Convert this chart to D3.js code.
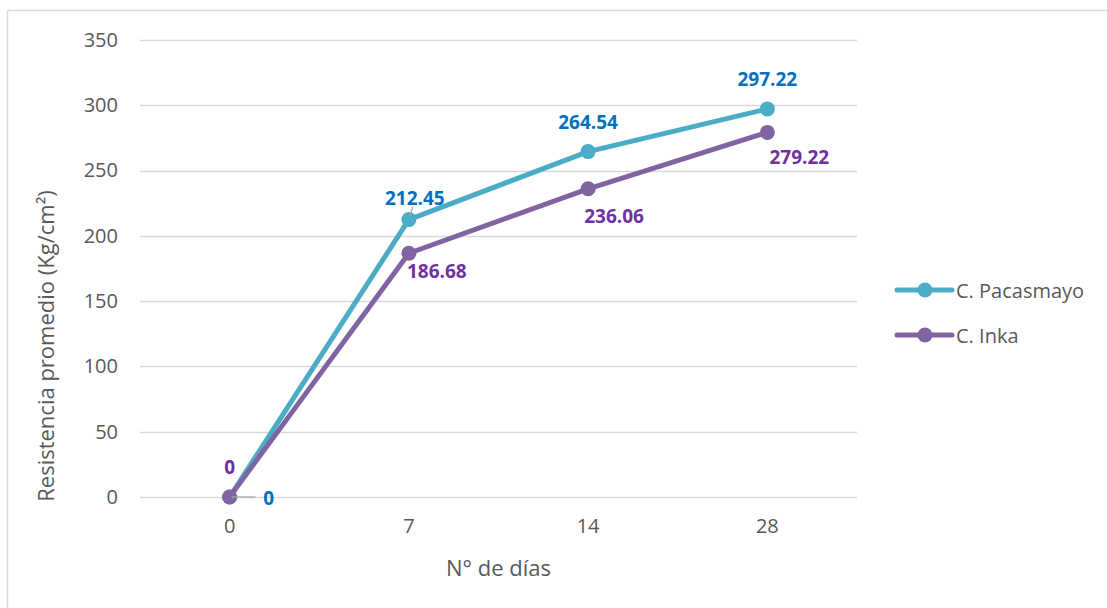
<!DOCTYPE html>
<html>
<head>
<meta charset="utf-8">
<script src="https://cdn.jsdelivr.net/npm/d3@7"></script>
<style>
  body { margin: 0; background: #fff; }
  text { font-family: "Open Sans", "Noto Sans", sans-serif; }
</style>
</head>
<body>
<div id="vis"></div>
<script>
const FRAME_WIDTH = 1107;
const FRAME_HEIGHT = 608;
const MARGINS = { top: 40, bottom: 111, left: 140, right: 250 };
const VIS_WIDTH = FRAME_WIDTH - MARGINS.left - MARGINS.right;
const VIS_HEIGHT = FRAME_HEIGHT - MARGINS.top - MARGINS.bottom;

// data
const DAYS = ["0", "7", "14", "28"];
const PACASMAYO = [0, 212.45, 264.54, 297.22];
const INKA = [0, 186.68, 236.06, 279.22];
const Y_TICKS = [0, 50, 100, 150, 200, 250, 300, 350];

const SERIES = [
  { name: "C. Pacasmayo", values: PACASMAYO, line: "#4BACC6", label: "#0070C0",
    offsets: [[39, 1], [6, -22], [0, -30], [0, -30]] },
  { name: "C. Inka", values: INKA, line: "#8064A2", label: "#7030A0",
    offsets: [[0, -30], [28, 18], [26, 27], [32, 25]] },
];

const FRAME = d3.select("#vis")
  .append("svg")
  .attr("width", FRAME_WIDTH)
  .attr("height", FRAME_HEIGHT);

FRAME.append("rect")
  .attr("x", 7.5)
  .attr("y", 10.5)
  .attr("width", FRAME_WIDTH)
  .attr("height", FRAME_HEIGHT)
  .attr("fill", "none")
  .attr("stroke", "#d9d9d9")
  .attr("stroke-width", 1.5);

const X_SCALE = d3.scaleBand()
  .domain(DAYS)
  .range([0, VIS_WIDTH]);

const Y_SCALE = d3.scaleLinear()
  .domain([0, 350])
  .range([VIS_HEIGHT, 0]);

const G = FRAME.append("g")
  .attr("transform", `translate(${MARGINS.left}, ${MARGINS.top})`);

// grid
G.append("g")
  .selectAll("line")
  .data(Y_TICKS)
  .enter()
  .append("line")
  .attr("x1", 0)
  .attr("x2", VIS_WIDTH)
  .attr("y1", (d) => Math.round(Y_SCALE(d)) + 0.5)
  .attr("y2", (d) => Math.round(Y_SCALE(d)) + 0.5)
  .attr("stroke", "#d9d9d9")
  .attr("stroke-width", 1.5);

const yAxis = G.append("g")
  .call(d3.axisLeft(Y_SCALE).tickValues(Y_TICKS).tickSize(0).tickPadding(22));
yAxis.select(".domain").remove();
yAxis.selectAll("text")
  .attr("font-size", 20)
  .attr("fill", "#595959")
  .style("font-family", "'Open Sans', sans-serif");

const xAxis = G.append("g")
  .attr("transform", `translate(0, ${VIS_HEIGHT})`)
  .call(d3.axisBottom(X_SCALE).tickSize(0).tickPadding(22));
xAxis.select(".domain").remove();
xAxis.selectAll("text")
  .attr("font-size", 20)
  .attr("fill", "#595959")
  .style("font-family", "'Open Sans', sans-serif");

const cx = (i) => X_SCALE(DAYS[i]) + X_SCALE.bandwidth() / 2;

// lines and markers
SERIES.forEach((s) => {
  const line = d3.line()
    .x((d, i) => cx(i))
    .y((d) => Y_SCALE(d));
  G.append("path")
    .datum(s.values)
    .attr("d", line)
    .attr("fill", "none")
    .attr("stroke", s.line)
    .attr("stroke-width", 5)
    .attr("stroke-linejoin", "round");
  G.selectAll(null)
    .data(s.values)
    .enter()
    .append("circle")
    .attr("cx", (d, i) => cx(i))
    .attr("cy", (d) => Y_SCALE(d))
    .attr("r", 7.5)
    .attr("fill", s.line);
});

// leader lines
G.append("line")
  .attr("x1", cx(0) + 2).attr("x2", cx(0) + 26)
  .attr("y1", Y_SCALE(0)).attr("y2", Y_SCALE(0))
  .attr("stroke", "#a6a6a6").attr("stroke-width", 1.2);
G.append("line")
  .attr("x1", cx(1) + 1).attr("x2", cx(1) + 4)
  .attr("y1", Y_SCALE(PACASMAYO[1]) - 4).attr("y2", Y_SCALE(PACASMAYO[1]) - 13)
  .attr("stroke", "#a6a6a6").attr("stroke-width", 1.2);

// data labels
SERIES.forEach((s) => {
  G.selectAll(null)
    .data(s.values)
    .enter()
    .append("text")
    .attr("x", (d, i) => cx(i) + s.offsets[i][0])
    .attr("y", (d, i) => Y_SCALE(d) + s.offsets[i][1])
    .attr("text-anchor", "middle")
    .attr("dominant-baseline", "central")
    .attr("font-size", 19)
    .attr("font-weight", "bold")
    .attr("fill", s.label)
    .text((d) => d);
});

// axis titles
FRAME.append("text")
  .attr("transform", "translate(45, 346) rotate(-90)")
  .attr("text-anchor", "middle")
  .attr("dominant-baseline", "central")
  .attr("font-size", 22)
  .attr("fill", "#595959")
  .text("Resistencia promedio (Kg/cm²)");

FRAME.append("text")
  .attr("x", MARGINS.left + VIS_WIDTH / 2)
  .attr("y", 567)
  .attr("text-anchor", "middle")
  .attr("dominant-baseline", "central")
  .attr("font-size", 22)
  .attr("fill", "#595959")
  .text("N° de días");

// legend
const LEGEND = FRAME.append("g")
  .attr("transform", "translate(897, 290)");
SERIES.forEach((s, i) => {
  const row = LEGEND.append("g").attr("transform", `translate(0, ${i * 45})`);
  row.append("line")
    .attr("x1", 0).attr("x2", 55)
    .attr("stroke", s.line).attr("stroke-width", 5)
    .attr("stroke-linecap", "round");
  row.append("circle")
    .attr("cx", 28).attr("r", 7.5).attr("fill", s.line);
  row.append("text")
    .attr("x", 59)
    .attr("dominant-baseline", "central")
    .attr("font-size", 20)
    .attr("fill", "#595959")
    .text(s.name);
});
</script>
</body>
</html>
